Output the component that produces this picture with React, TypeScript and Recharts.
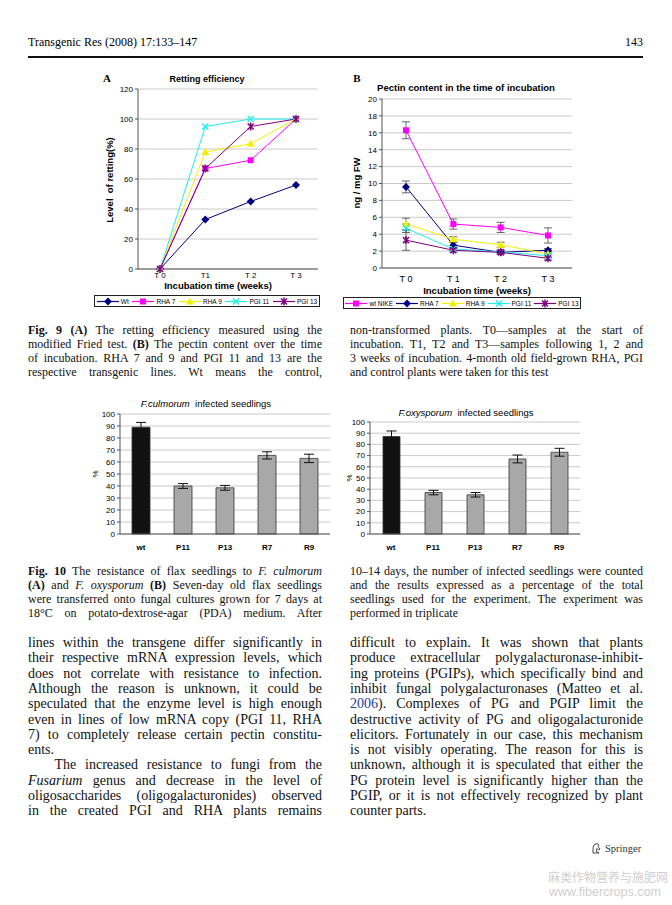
import React from "react";
import {
  LineChart,
  Line,
  BarChart,
  Bar,
  Cell,
  XAxis,
  YAxis,
  CartesianGrid,
  ErrorBar,
} from "recharts";

// ---- Fig. 9A: retting efficiency (%)
const weeksA = ["T 0", "T1", "T 2", "T 3"];
const rettWt = [0, 33, 45, 56];
const rettRha7 = [0, 67, 72.5, 100];
const rettRha9 = [0, 78, 83.5, 100];
const rettPgi11 = [0, 95, 100, 100];
const rettPgi13 = [0, 67, 95, 100];
const rettTicks = [0, 20, 40, 60, 80, 100, 120];

// ---- Fig. 9B: pectin content (ng / mg FW)
const weeksB = ["T 0", "T 1", "T 2", "T 3"];
const pecWt = [16.3, 5.2, 4.8, 3.85];
const pecWtErr = [1.0, 0.6, 0.6, 0.9];
const pecRha7 = [9.6, 2.7, 1.85, 2.1];
const pecRha7Err = [0.7, 0.3, 0.2, 0.2];
const pecRha9 = [5.2, 3.4, 2.75, 1.65];
const pecRha9Err = [0.7, 0.3, 0.3, 0.3];
const pecPgi11 = [4.7, 2.25, 1.9, 1.45];
const pecPgi11Err = [0.5, 0.2, 0.2, 0.2];
const pecPgi13 = [3.3, 2.1, 1.85, 1.15];
const pecPgi13Err = [1.2, 0.2, 0.2, 0.2];
const pecTicks = [0, 2, 4, 6, 8, 10, 12, 14, 16, 18, 20];

// ---- Fig. 10: infected seedlings (%)
const lines10 = ["wt", "P11", "P13", "R7", "R9"];
const culmorum = [89, 40, 38.5, 65.5, 63];
const culmorumErr = [4, 2, 2, 3, 3.5];
const oxysporum = [87, 37, 35, 67, 73];
const oxysporumErr = [5, 2, 2, 3.5, 3.5];
const pctTicks = [0, 10, 20, 30, 40, 50, 60, 70, 80, 90, 100];

const sans = '"Liberation Sans", Arial, sans-serif';
const serif = '"Liberation Serif", "Times New Roman", serif';

const NAVY = "#000080";
const MAGENTA = "#ff00ff";
const YELLOW = "#f2f000";
const CYAN = "#22eeee";
const PURPLE = "#800080";

const rettData = weeksA.map((t, i) => ({
  t,
  wt: rettWt[i],
  rha7: rettRha7[i],
  rha9: rettRha9[i],
  pgi11: rettPgi11[i],
  pgi13: rettPgi13[i],
}));

const pecData = weeksB.map((t, i) => ({
  t,
  wt: pecWt[i],
  wtE: pecWtErr[i],
  rha7: pecRha7[i],
  rha7E: pecRha7Err[i],
  rha9: pecRha9[i],
  rha9E: pecRha9Err[i],
  pgi11: pecPgi11[i],
  pgi11E: pecPgi11Err[i],
  pgi13: pecPgi13[i],
  pgi13E: pecPgi13Err[i],
}));

const culData = lines10.map((k, i) => ({ k, v: culmorum[i], e: culmorumErr[i] }));
const oxyData = lines10.map((k, i) => ({ k, v: oxysporum[i], e: oxysporumErr[i] }));

// ---- text
const fig9Left = [
  <><b>Fig. 9</b> <b>(A)</b> The retting efficiency measured using the</>,
  <>modified Fried test. <b>(B)</b> The pectin content over the time</>,
  <>of incubation. RHA 7 and 9 and PGI 11 and 13 are the</>,
  <>respective transgenic lines. Wt means the control,</>,
];
const fig9Right = [
  <>non-transformed plants. T0—samples at the start of</>,
  <>incubation. T1, T2 and T3—samples following 1, 2 and</>,
  <>3 weeks of incubation. 4-month old field-grown RHA, PGI</>,
  <>and control plants were taken for this test</>,
];
const fig10Left = [
  <><b>Fig. 10</b> The resistance of flax seedlings to <i>F. culmorum</i></>,
  <><b>(A)</b> and <i>F. oxysporum</i> <b>(B)</b> Seven-day old flax seedlings</>,
  <>were transferred onto fungal cultures grown for 7 days at</>,
  <>18°C on potato-dextrose-agar (PDA) medium. After</>,
];
const fig10Right = [
  <>10–14 days, the number of infected seedlings were counted</>,
  <>and the results expressed as a percentage of the total</>,
  <>seedlings used for the experiment. The experiment was</>,
  <>performed in triplicate</>,
];
const bodyLeft = [
  <>lines within the transgene differ significantly in</>,
  <>their respective mRNA expression levels, which</>,
  <>does not correlate with resistance to infection.</>,
  <>Although the reason is unknown, it could be</>,
  <>speculated that the enzyme level is high enough</>,
  <>even in lines of low mRNA copy (PGI 11, RHA</>,
  <>7) to completely release certain pectin constitu-</>,
  <>ents.</>,
  <>&nbsp;&nbsp;&nbsp;The increased resistance to fungi from the</>,
  <><i>Fusarium</i> genus and decrease in the level of</>,
  <>oligosaccharides (oligogalacturonides) observed</>,
  <>in the created PGI and RHA plants remains</>,
];
const bodyRight = [
  <>difficult to explain. It was shown that plants</>,
  <>produce extracellular polygalacturonase-inhibit-</>,
  <>ing proteins (PGIPs), which specifically bind and</>,
  <>inhibit fungal polygalacturonases (Matteo et al.</>,
  <><span style={{ color: "#1a3d9c" }}>2006</span>). Complexes of PG and PGIP limit the</>,
  <>destructive activity of PG and oligogalacturonide</>,
  <>elicitors. Fortunately in our case, this mechanism</>,
  <>is not visibly operating. The reason for this is</>,
  <>unknown, although it is speculated that either the</>,
  <>PG protein level is significantly higher than the</>,
  <>PGIP, or it is not effectively recognized by plant</>,
  <>counter parts.</>,
];

function Mark({ cx, cy, shape, color }: any) {
  if (cx == null || cy == null) return null;
  const s = 3;
  if (shape === "diamond")
    return <path d={`M${cx},${cy - 4}L${cx + 4},${cy}L${cx},${cy + 4}L${cx - 4},${cy}Z`} fill={color} />;
  if (shape === "square")
    return <rect x={cx - s} y={cy - s} width={2 * s} height={2 * s} fill={color} />;
  if (shape === "triangle")
    return <path d={`M${cx},${cy - 4}L${cx + 4},${cy + 3}L${cx - 4},${cy + 3}Z`} fill={color} />;
  if (shape === "x")
    return (
      <path
        d={`M${cx - s},${cy - s}L${cx + s},${cy + s}M${cx - s},${cy + s}L${cx + s},${cy - s}`}
        stroke={color}
        strokeWidth={1.6}
      />
    );
  return (
    <path
      d={`M${cx - s},${cy - s}L${cx + s},${cy + s}M${cx - s},${cy + s}L${cx + s},${cy - s}M${cx},${cy - 4}L${cx},${cy + 4}`}
      stroke={color}
      strokeWidth={1.5}
    />
  );
}

function dotOf(name: string, shape: string, color: string) {
  return (p: any) => <Mark key={`${name}-${p.index}`} cx={p.cx} cy={p.cy} shape={shape} color={color} />;
}

function LegendBox({ items, left, top, width }: any) {
  return (
    <div
      style={{
        position: "absolute",
        left,
        top,
        width,
        height: 12,
        border: "1px solid #222",
        boxSizing: "border-box",
        display: "flex",
        justifyContent: "space-around",
        alignItems: "center",
        fontFamily: sans,
        fontSize: 6.5,
        background: "#fff",
      }}
    >
      {items.map((it: any) => (
        <div key={it.label} style={{ display: "flex", alignItems: "center" }}>
          <svg width={22} height={9}>
            <line x1={0} y1={4.5} x2={22} y2={4.5} stroke={it.color} strokeWidth={1.2} />
            <Mark cx={11} cy={4.5} shape={it.shape} color={it.color} />
          </svg>
          <span style={{ marginLeft: 2 }}>{it.label}</span>
        </div>
      ))}
    </div>
  );
}

function Txt({ x, y, children, style, rotate }: any) {
  return (
    <div
      style={{
        position: "absolute",
        left: x,
        top: y,
        transform: `translate(-50%, -50%)${rotate ? " rotate(-90deg)" : ""}`,
        whiteSpace: "nowrap",
        lineHeight: 1,
        ...style,
      }}
    >
      {children}
    </div>
  );
}

function TextLines({ lines, left, top, width, step, fontSize, lastLeft }: any) {
  return (
    <>
      {lines.map((ln: any, i: number) => {
        const isLast = lastLeft.includes(i);
        return (
          <div
            key={i}
            style={{
              position: "absolute",
              left,
              top: top + i * step,
              width,
              fontFamily: serif,
              fontSize,
              lineHeight: `${step}px`,
              whiteSpace: "nowrap",
              textAlign: isLast ? "left" : "justify",
              textAlignLast: isLast ? "left" : "justify",
              color: "#111",
            }}
          >
            {ln}
          </div>
        );
      })}
    </>
  );
}

const tickStyle = { fontSize: 8, fill: "#000", fontFamily: sans };
const axisStroke = { stroke: "#555" };

export default function App() {
  return (
    <div
      style={{
        position: "absolute",
        left: 0,
        top: 0,
        width: 672,
        height: 905,
        background: "#fff",
        overflow: "hidden",
      }}
    >
      {/* running head */}
      <div style={{ position: "absolute", left: 28, top: 35, fontFamily: serif, fontSize: 12 }}>
        Transgenic Res (2008) 17:133–147
      </div>
      <div style={{ position: "absolute", right: 29, top: 35, fontFamily: serif, fontSize: 12 }}>143</div>
      <div style={{ position: "absolute", left: 28, top: 56, width: 615, height: 1.5, background: "#111" }} />

      {/* Fig 9A */}
      <Txt x={107} y={78} style={{ fontFamily: serif, fontWeight: "bold", fontSize: 11 }}>A</Txt>
      <Txt x={207} y={79} style={{ fontFamily: sans, fontWeight: "bold", fontSize: 9 }}>Retting efficiency</Txt>
      <Txt x={110} y={180} rotate style={{ fontFamily: sans, fontWeight: "bold", fontSize: 9.5 }}>
        Level&nbsp; of retting(%)
      </Txt>
      <Txt x={218} y={286} style={{ fontFamily: sans, fontWeight: "bold", fontSize: 9.5 }}>
        Incubation time (weeks)
      </Txt>
      <div style={{ position: "absolute", left: 90, top: 70 }}>
        <LineChart width={240} height={245} data={rettData} margin={{ top: 19, right: 12, left: 18, bottom: 32 }}>
          <CartesianGrid vertical={false} stroke="#bdbdbd" strokeWidth={0.8} />
          <XAxis
            dataKey="t"
            tickLine={false}
            tickSize={0}
            tick={tickStyle}
            axisLine={axisStroke}
            tickMargin={3}
            height={14}
            padding={{ left: 22, right: 22 }}
          />
          <YAxis
            domain={[0, 120]}
            ticks={rettTicks}
            interval={0}
            width={30}
            tickSize={3}
            tick={tickStyle}
            axisLine={axisStroke}
            tickLine={axisStroke}
          />
          <Line dataKey="wt" stroke={NAVY} strokeWidth={1} dot={dotOf("aw", "diamond", NAVY)} isAnimationActive={false} />
          <Line dataKey="rha7" stroke={MAGENTA} strokeWidth={1} dot={dotOf("a7", "square", MAGENTA)} isAnimationActive={false} />
          <Line dataKey="rha9" stroke={YELLOW} strokeWidth={1} dot={dotOf("a9", "triangle", YELLOW)} isAnimationActive={false} />
          <Line dataKey="pgi11" stroke={CYAN} strokeWidth={1} dot={dotOf("a11", "x", CYAN)} isAnimationActive={false} />
          <Line dataKey="pgi13" stroke={PURPLE} strokeWidth={1} dot={dotOf("a13", "star", PURPLE)} isAnimationActive={false} />
        </LineChart>
      </div>
      <LegendBox
        left={94}
        top={295}
        width={226}
        items={[
          { label: "Wt", color: NAVY, shape: "diamond" },
          { label: "RHA 7", color: MAGENTA, shape: "square" },
          { label: "RHA 9", color: YELLOW, shape: "triangle" },
          { label: "PGI 11", color: CYAN, shape: "x" },
          { label: "PGI 13", color: PURPLE, shape: "star" },
        ]}
      />

      {/* Fig 9B */}
      <Txt x={357} y={78} style={{ fontFamily: serif, fontWeight: "bold", fontSize: 11 }}>B</Txt>
      <Txt x={466} y={88} style={{ fontFamily: sans, fontWeight: "bold", fontSize: 9.5 }}>
        Pectin content in the time of incubation
      </Txt>
      <Txt x={357} y={183} rotate style={{ fontFamily: sans, fontWeight: "bold", fontSize: 9.5 }}>
        ng / mg FW
      </Txt>
      <Txt x={477} y={291} style={{ fontFamily: sans, fontWeight: "bold", fontSize: 9.5 }}>
        Incubation time (weeks)
      </Txt>
      <div style={{ position: "absolute", left: 340, top: 70 }}>
        <LineChart width={245} height={245} data={pecData} margin={{ top: 29, right: 13, left: 18, bottom: 31 }}>
          <CartesianGrid vertical={false} stroke="#bdbdbd" strokeWidth={0.8} />
          <XAxis
            dataKey="t"
            tickLine={false}
            tickSize={0}
            tick={{ ...tickStyle, fontSize: 9 }}
            axisLine={axisStroke}
            tickMargin={8}
            height={16}
            padding={{ left: 24, right: 24 }}
          />
          <YAxis
            domain={[0, 20]}
            ticks={pecTicks}
            interval={0}
            width={24}
            tickSize={3}
            tick={tickStyle}
            axisLine={axisStroke}
            tickLine={axisStroke}
          />
          <Line dataKey="wt" stroke={MAGENTA} strokeWidth={1} dot={dotOf("bw", "square", MAGENTA)} isAnimationActive={false}>
            <ErrorBar dataKey="wtE" width={4} stroke="#444" strokeWidth={0.8} />
          </Line>
          <Line dataKey="rha7" stroke={NAVY} strokeWidth={1} dot={dotOf("b7", "diamond", NAVY)} isAnimationActive={false}>
            <ErrorBar dataKey="rha7E" width={4} stroke="#444" strokeWidth={0.8} />
          </Line>
          <Line dataKey="rha9" stroke={YELLOW} strokeWidth={1} dot={dotOf("b9", "triangle", YELLOW)} isAnimationActive={false}>
            <ErrorBar dataKey="rha9E" width={4} stroke="#444" strokeWidth={0.8} />
          </Line>
          <Line dataKey="pgi11" stroke={CYAN} strokeWidth={1} dot={dotOf("b11", "x", CYAN)} isAnimationActive={false}>
            <ErrorBar dataKey="pgi11E" width={4} stroke="#444" strokeWidth={0.8} />
          </Line>
          <Line dataKey="pgi13" stroke={PURPLE} strokeWidth={1} dot={dotOf("b13", "star", PURPLE)} isAnimationActive={false}>
            <ErrorBar dataKey="pgi13E" width={4} stroke="#444" strokeWidth={0.8} />
          </Line>
        </LineChart>
      </div>
      <LegendBox
        left={343}
        top={297}
        width={238}
        items={[
          { label: "wt NIKE", color: MAGENTA, shape: "square" },
          { label: "RHA 7", color: NAVY, shape: "diamond" },
          { label: "RHA 9", color: YELLOW, shape: "triangle" },
          { label: "PGI 11", color: CYAN, shape: "x" },
          { label: "PGI 13", color: PURPLE, shape: "star" },
        ]}
      />

      {/* Fig 9 caption */}
      <TextLines lines={fig9Left} left={28} top={323} width={294} step={14} fontSize={12} lastLeft={[]} />
      <TextLines lines={fig9Right} left={350} top={323} width={293} step={14} fontSize={12} lastLeft={[3]} />

      {/* Fig 10A */}
      <Txt x={206} y={404} style={{ fontFamily: sans, fontSize: 9.5 }}>
        <i>F.culmorum</i>&nbsp; infected seedlings
      </Txt>
      <Txt x={96} y={474} rotate style={{ fontFamily: sans, fontSize: 8 }}>%</Txt>
      <div style={{ position: "absolute", left: 80, top: 395 }}>
        <BarChart width={255} height={160} data={culData} margin={{ top: 19, right: 5, left: 18, bottom: 0 }}>
          <CartesianGrid vertical={false} stroke="#bdbdbd" strokeWidth={0.8} />
          <XAxis
            dataKey="k"
            tickLine={false}
            tick={{ ...tickStyle, fontWeight: "bold" }}
            axisLine={axisStroke}
            tickMargin={4}
            height={21}
          />
          <YAxis
            domain={[0, 100]}
            ticks={pctTicks}
            interval={0}
            width={22}
            tickSize={3}
            tick={tickStyle}
            axisLine={axisStroke}
            tickLine={axisStroke}
          />
          <Bar dataKey="v" barSize={18} stroke="#333" strokeWidth={0.8} isAnimationActive={false}>
            {culData.map((d, i) => (
              <Cell key={d.k} fill={i === 0 ? "#111" : "#a8a8a8"} />
            ))}
            <ErrorBar dataKey="e" width={5} stroke="#111" strokeWidth={1} />
          </Bar>
        </BarChart>
      </div>

      {/* Fig 10B */}
      <Txt x={466} y={413} style={{ fontFamily: sans, fontSize: 9.5 }}>
        <i>F.oxysporum</i>&nbsp; infected seedlings
      </Txt>
      <Txt x={350} y={478} rotate style={{ fontFamily: sans, fontSize: 8 }}>%</Txt>
      <div style={{ position: "absolute", left: 335, top: 395 }}>
        <BarChart width={255} height={160} data={oxyData} margin={{ top: 27, right: 10, left: 13, bottom: 0 }}>
          <CartesianGrid vertical={false} stroke="#bdbdbd" strokeWidth={0.8} />
          <XAxis
            dataKey="k"
            tickLine={false}
            tick={{ ...tickStyle, fontWeight: "bold" }}
            axisLine={axisStroke}
            tickMargin={4}
            height={21}
          />
          <YAxis
            domain={[0, 100]}
            ticks={pctTicks}
            interval={0}
            width={22}
            tickSize={3}
            tick={tickStyle}
            axisLine={axisStroke}
            tickLine={axisStroke}
          />
          <Bar dataKey="v" barSize={17} stroke="#333" strokeWidth={0.8} isAnimationActive={false}>
            {oxyData.map((d, i) => (
              <Cell key={d.k} fill={i === 0 ? "#111" : "#a8a8a8"} />
            ))}
            <ErrorBar dataKey="e" width={5} stroke="#111" strokeWidth={1} />
          </Bar>
        </BarChart>
      </div>

      {/* Fig 10 caption */}
      <TextLines lines={fig10Left} left={28} top={564} width={294} step={14} fontSize={12} lastLeft={[]} />
      <TextLines lines={fig10Right} left={350} top={564} width={293} step={14} fontSize={12} lastLeft={[3]} />

      {/* body text */}
      <TextLines lines={bodyLeft} left={28} top={635} width={294} step={15.3} fontSize={14} lastLeft={[7]} />
      <TextLines lines={bodyRight} left={350} top={635} width={293} step={15.3} fontSize={14} lastLeft={[11]} />

      {/* publisher mark + watermark */}
      <div
        style={{
          position: "absolute",
          left: 590,
          top: 842,
          display: "flex",
          alignItems: "center",
          fontFamily: serif,
          fontSize: 10.5,
          color: "#333",
        }}
      >
        <svg width={12} height={12} style={{ marginRight: 3 }}>
          <path d="M3,11 L3,6 Q3,2 7,1.5 L9,3 L8,4.5 L10,7 L8.5,8 L7,6.5 L6,9 L9,11 Z" fill="none" stroke="#333" strokeWidth={0.9} />
        </svg>
        Springer
      </div>
      <div
        style={{
          position: "absolute",
          left: 548,
          top: 869,
          fontFamily: '"Noto Sans CJK SC", sans-serif',
          fontSize: 12,
          color: "#cfcfcf",
          lineHeight: "15px",
        }}
      >
        麻类作物营养与施肥网
      </div>
      <div
        style={{
          position: "absolute",
          left: 549,
          top: 885,
          fontFamily: sans,
          fontSize: 12.5,
          color: "#cfcfcf",
          lineHeight: "15px",
        }}
      >
        www.fibercrops.com
      </div>
    </div>
  );
}
